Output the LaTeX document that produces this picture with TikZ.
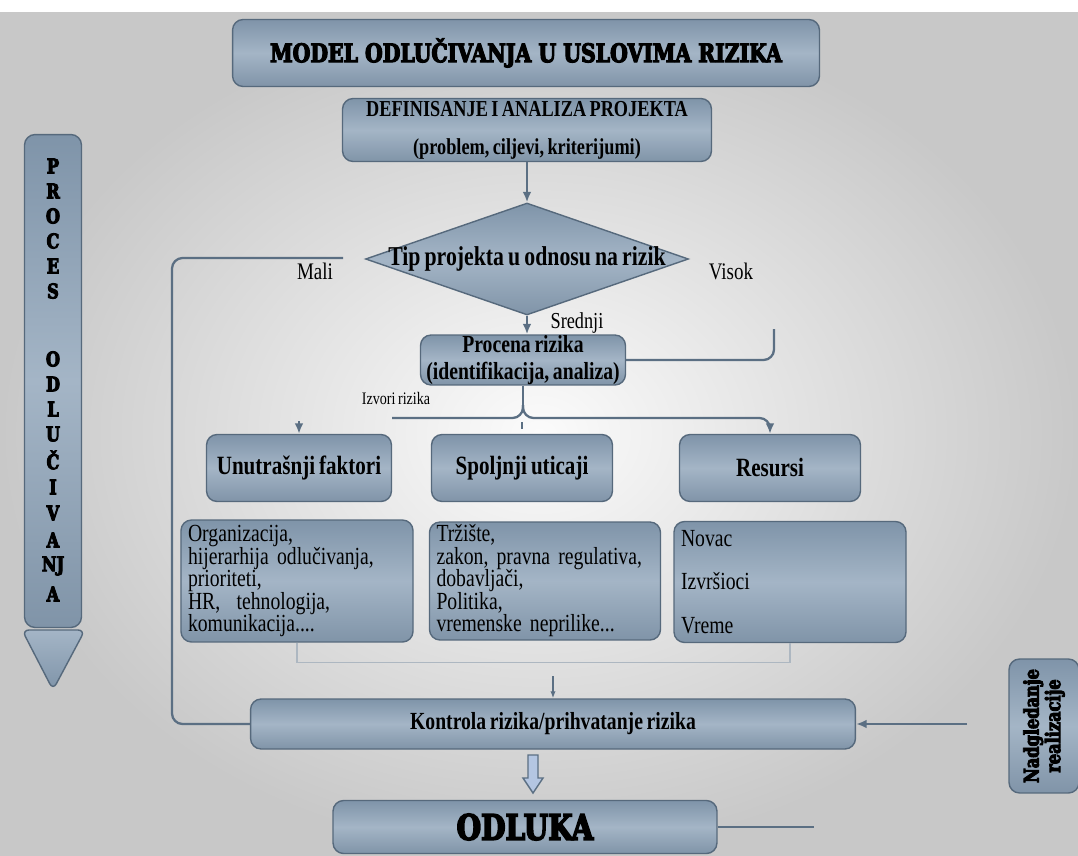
\documentclass[tikz,border=0pt]{standalone}
\usepackage{fontspec}
\setmainfont{Liberation Serif}
\newfontfamily\condfont{Liberation Serif}[FakeStretch=0.8,WordSpace=0.75]
\newfontfamily\heavyfont{DejaVu Serif}[FakeStretch=0.8,BoldFeatures={FakeBold=4.5}]
\usetikzlibrary{shapes.geometric,arrows.meta}

\definecolor{boxtop}{HTML}{7F94A9}
\definecolor{boxmid}{HTML}{A4B5C6}
\definecolor{boxbot}{HTML}{8094A8}
\definecolor{boxline}{HTML}{56697C}
\definecolor{lineblue}{HTML}{5B6F83}
\definecolor{pale}{HTML}{B4C6E2}
\definecolor{bgedge}{HTML}{C8C8C8}

\tikzset{
  blok/.style={draw=boxline, line width=0.8pt, rounded corners=6pt,
    top color=boxtop, bottom color=boxbot, middle color=boxmid,
    inner sep=0pt, font=\condfont\bfseries\fontsize{15}{17}\selectfont},
  lista/.style={blok, font=\condfont\fontsize{14}{12.8}\selectfont,
    align=left, inner xsep=4pt},
  veza/.style={draw=lineblue, line width=1.3pt, rounded corners=6pt},
  strelica/.style={veza, -{Latex[length=6pt,width=5pt]}},
  tanka/.style={draw=lineblue!50, line width=0.6pt},
  oznaka/.style={font=\condfont\fontsize{13.5}{15}\selectfont},
}

\begin{document}
\begin{tikzpicture}[x=0.02cm,y=-0.02cm]
\useasboundingbox (0,0) rectangle (1078,855);
\fill[white] (0,0) rectangle (1078,855);
\shade[inner color=white!97!gray, outer color=bgedge] (0,13) rectangle (1078,855);

% naslov i projekat
\node[blok, minimum width=11.74cm, minimum height=1.34cm,
  font=\heavyfont\bfseries\fontsize{14.5}{16}\selectfont] (naslov) at (526,53)
  {MODEL ODLUČIVANJA U USLOVIMA RIZIKA};
\node[blok, minimum width=7.38cm, minimum height=1.26cm, align=center,
  font=\condfont\bfseries\fontsize{13}{21.5}\selectfont] (def) at (527,130)
  {DEFINISANJE I ANALIZA PROJEKTA\\(problem, ciljevi, kriterijumi)};

\node[diamond, draw=boxline, line width=0.8pt, top color=boxtop, bottom color=boxbot,
  middle color=boxmid, minimum width=6.46cm, minimum height=2.24cm, inner sep=0pt]
  (dia) at (527,259) {};
\node[font=\condfont\bfseries\fontsize{15.5}{17}\selectfont] (tip) at (dia) {Tip projekta u odnosu na rizik};

\node[blok, minimum width=4.1cm, minimum height=1.0cm, align=center,
  font=\condfont\bfseries\fontsize{14}{15}\selectfont] (pro) at (523,360)
  {Procena rizika\\(identifikacija, analiza)};

% izvori rizika
\node[blok, minimum width=3.7cm, minimum height=1.34cm] (unu) at (299,468) {Unutrašnji faktori};
\node[blok, minimum width=3.62cm, minimum height=1.34cm] (spo) at (522,468) {Spoljnji uticaji};
\node[blok, minimum width=3.62cm, minimum height=1.34cm] (res) at (770,468) {Resursi};

\node[lista, minimum height=2.44cm, text width=4.36cm] (org) at (297,581)
  {Organizacija,\\hijerarhija odlučivanja,\\prioriteti,\\HR,\ \ tehnologija,\\komunikacija....};
\node[lista, minimum height=2.36cm, text width=4.34cm] (trz) at (545,581)
  {Tržište,\\zakon, pravna regulativa,\\dobavljači,\\Politika,\\vremenske neprilike...};
\node[lista, minimum height=2.42cm, text width=4.36cm] (nov) at (790,582)
  {Novac\\[12pt]Izvršioci\\[12pt]Vreme};

\node[blok, minimum width=12.1cm, minimum height=1.0cm,
  font=\condfont\bfseries\fontsize{14}{15}\selectfont] (kon) at (553,724)
  {Kontrola rizika/prihvatanje rizika};
\node[blok, minimum width=7.68cm, minimum height=1.06cm,
  font=\heavyfont\bfseries\fontsize{20}{22}\selectfont] (odl) at (525,827) {ODLUKA};

\node[blok, rotate=90, minimum width=2.68cm, minimum height=1.4cm, align=center,
  font=\heavyfont\bfseries\fontsize{11.5}{11}\selectfont] (nad) at (1044,726)
  {Nadgledanje\\realizacije};

% proces odlucivanja
\node[blok, minimum width=1.14cm, minimum height=9.86cm] (proces) at (53,381) {};
\draw[draw=boxline, line width=0.8pt, rounded corners=4pt, top color=boxmid, bottom color=boxtop]
  (22,630) -- (85,630) -- (53,690) -- cycle;
\foreach \slovo/\y in {P/166,R/191,O/216,C/241,E/266,S/291,O/359,D/384,L/409,U/434,Č/460,I/487,V/513,A/540,NJ/566,A/594}
  \node[font=\heavyfont\bfseries\fontsize{11.5}{12}\selectfont] at (53,\y) {\slovo};

% veze
\draw[strelica] (def.south) -- (dia.north);
\draw[strelica] (dia.south) -- (dia.south |- pro.north);
\coordinate (mali) at (343,258);
\draw[veza] (mali) -- (172,258) |- (kon.west);
\node[oznaka] (malitxt) at (315,271) {Mali};
\coordinate (visok) at (774,329);
\draw[veza] (visok) |- (pro.east);
\node[oznaka] (visoktxt) at (731,271) {Visok};
\node[oznaka, font=\condfont\fontsize{13}{14}\selectfont] (srednji) at (577,323) {Srednji};

\coordinate (racva) at (523,405);
\draw[veza] (pro.south) -- (racva);
\draw[veza] (racva) |- (392,418);
\draw[strelica] (racva) |- (770,418) -- (res.north);
\draw[strelica] (unu.north |- 0,421) -- (unu.north);
\draw[veza, rounded corners=0pt] (spo.north |- 0,422) -- (spo.north |- 0,429);
\node[font=\condfont\fontsize{10}{11}\selectfont] (izvori) at (396,398) {Izvori rizika};

\draw[tanka] (org.south) -- ++(0,20) -| (nov.south);
\draw[draw=lineblue, line width=0.7pt, -{Latex[length=4pt,width=3pt]}] (kon.north |- 0,676) -- (kon.north);
\coordinate (nadkraj) at (967,724);
\draw[strelica] (nadkraj) -- (kon.east);

\draw[draw=lineblue, line width=0.8pt, fill=pale] (528,755) -- (538,755) -- (538,778) -- (543,778)
  -- (533,793) -- (523,778) -- (528,778) -- cycle;
\coordinate (odlkraj) at (814,827);
\draw[veza] (odl.east) -- (odlkraj);
\end{tikzpicture}
\end{document}
